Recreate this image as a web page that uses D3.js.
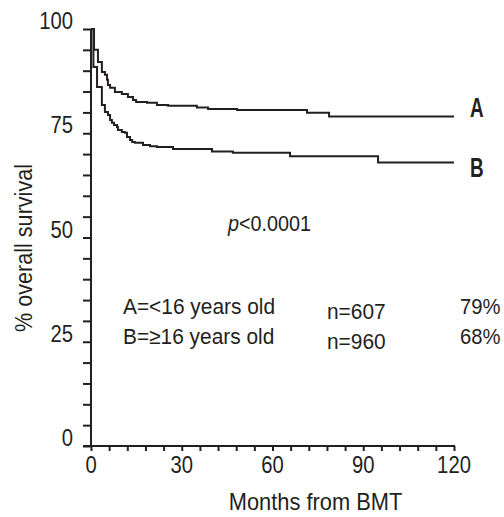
<!DOCTYPE html>
<html>
<head>
<meta charset="utf-8">
<script src="https://cdn.jsdelivr.net/npm/d3@7/dist/d3.min.js"></script>
<style>
  html, body { margin: 0; padding: 0; background: #fff; }
  svg { display: block; }
  text { font-family: "Liberation Sans", Arial, sans-serif; fill: #231f20; }
</style>
</head>
<body>
<svg id="chart" width="504" height="517"></svg>
<script>
// Kaplan–Meier overall survival by age group (step points: month, % surviving)
const monthsA = [0, 1.0, 2.3, 3.6, 4.6, 5.3, 5.6, 6.3, 7.9, 10.2, 12.2, 13.9, 14.9, 18.5, 21.8, 25.5, 35.0, 38.7, 48.3, 71.4, 78.7, 120];
const survA   = [100, 95.0, 92.1, 89.7, 89.0, 87.8, 86.6, 85.9, 84.9, 84.4, 83.7, 83.0, 82.5, 82.3, 81.8, 81.6, 81.2, 80.8, 80.6, 79.9, 79.0, 79.0];
const monthsB = [0, 0.8, 2.0, 3.6, 4.6, 5.6, 6.3, 6.9, 7.6, 8.6, 8.9, 10.2, 11.2, 11.9, 12.9, 13.6, 14.5, 17.2, 19.5, 21.8, 27.1, 40.0, 46.9, 65.8, 94.9, 120];
const survB   = [100, 90.9, 86.1, 81.8, 80.1, 79.4, 78.2, 77.5, 77.0, 76.5, 75.8, 75.3, 75.1, 74.1, 73.4, 72.9, 72.7, 72.2, 71.9, 71.7, 71.2, 70.6, 70.3, 69.5, 68.0, 68.0];

const curveNames = ["A", "B"];
const yTickLabels = [0, 25, 50, 75, 100];
const xTickLabels = [0, 30, 60, 90, 120];

const groupText = ["A=<16 years old", "B=\u226516 years old"];
const groupN = ["n=607", "n=960"];
const groupPct = ["79%", "68%"];
const pValue = "<0.0001";

const xTitle = "Months from BMT";
const yTitle = "% overall survival";

const ink = "#231f20";
const svg = d3.select("#chart");

const x = d3.scaleLinear().domain([0, 120]).range([91, 454]);
const y = d3.scaleLinear().domain([0, 100]).range([446, 29]);

function label(g, str, px, py, o = {}) {
  const t = g.append("text")
    .attr("transform", `translate(${px},${py})` + (o.rotate ? ` rotate(${o.rotate})` : "") + ` scale(${o.sx || 1},1)`)
    .attr("text-anchor", o.anchor || "start")
    .attr("font-size", o.size || 22)
    .attr("font-weight", o.weight || "normal");
  if (str !== null) t.text(str);
  return t;
}

// Axes: ticks every 5% and every 6 months, labels every 25% and 30 months
const yAxis = d3.axisLeft(y).tickValues(d3.range(0, 101, 5)).tickSize(8).tickSizeOuter(0).tickFormat("");
const xAxis = d3.axisBottom(x).tickValues(d3.range(0, 121, 6)).tickSize(5).tickSizeOuter(0).tickFormat("");

const gy = svg.append("g").attr("transform", `translate(${x(0)},0)`).call(yAxis);
const gx = svg.append("g").attr("transform", `translate(0,${y(0)})`).call(xAxis);
[gy, gx].forEach(g => {
  g.selectAll("path, line").attr("stroke", ink).attr("stroke-width", 2);
});
gy.select(".domain").attr("d", `M0,${y(0) + 1}V${y(100)}`);
gx.select(".domain").attr("d", `M${x(0) - 8},0H${x(120) + 1}`);

const labels = svg.append("g");
yTickLabels.forEach(v => label(labels, String(v), x(0) - 18, y(v), { anchor: "end", size: 23, sx: 0.88 }));
xTickLabels.forEach(v => label(labels, String(v), x(v), y(0) + 27, { anchor: "middle", size: 23, sx: 0.88 }));

// Axis titles
label(labels, xTitle, (x(0) + x(120)) / 2 + 43, 510, { anchor: "middle", size: 23, sx: 0.95 });
label(labels, yTitle, 32, 248, { anchor: "middle", size: 24, sx: 0.9, rotate: -90 });

// Survival step curves
const line = d3.line().x(d => x(d[0])).y(d => y(d[1])).curve(d3.curveStepAfter);
const series = [d3.zip(monthsA, survA), d3.zip(monthsB, survB)];
svg.append("g").selectAll("path").data(series).join("path")
  .attr("d", line)
  .attr("fill", "none")
  .attr("stroke", ink)
  .attr("stroke-width", 2);

// Curve labels at the right end of each curve
curveNames.forEach((n, i) => {
  const last = series[i][series[i].length - 1];
  label(labels, n, x(120) + 16, y(last[1]) + [0, 15][i] + [0, 0][i], { size: 27, sx: 0.7, weight: "bold" })
    .attr("dy", i === 0 ? "0" : "0");
});

// p-value
const pt = label(labels, null, 228, 231, { size: 22, sx: 0.9 });
pt.append("tspan").attr("font-style", "italic").text("p");
pt.append("tspan").text(pValue);

// Group legend
const rowY = [314, 344];
groupText.forEach((s, i) => label(labels, s, 123, rowY[i], { size: 22, sx: 0.95 }));
groupN.forEach((s, i) => label(labels, s, 327, rowY[i] + 5, { size: 22, sx: 0.95 }));
groupPct.forEach((s, i) => label(labels, s, 460, rowY[i], { size: 22, sx: 0.92 }));
</script>
</body>
</html>
